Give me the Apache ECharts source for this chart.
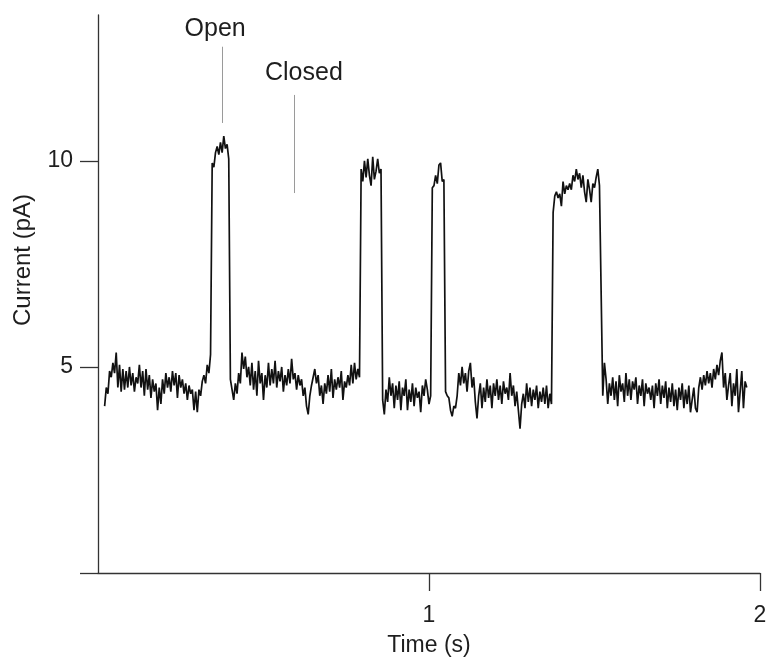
<!DOCTYPE html>
<html>
<head>
<meta charset="utf-8">
<script src="https://cdn.jsdelivr.net/npm/echarts@6/dist/echarts.min.js"></script>
<style>
html,body{margin:0;padding:0;background:#fff;}
#c{width:768px;height:657px;}
</style>
</head>
<body>
<div id="c"></div>
<script>
// ---- data (current in pA, sampled every sampleStep seconds from startTime) ----
const startTime = 0.02;
const sampleStep = 0.005;
const closedA = [4.05,4.5,4.35,4.9,4.75,5.1,4.85,5.35,4.5,5.05,
  4.4,4.95,4.45,4.9,4.5,5.0,4.55,4.85,4.4,4.75,
  4.6,5.05,4.5,4.9,4.3,4.95,4.45,4.8,4.25,4.7,
  4.4,4.6,3.95,4.5,4.1,4.7,4.35,4.85,4.5,4.75,
  4.4,4.9,4.55,4.85,4.25,4.8,4.5,4.7,4.35,4.6,
  4.2,4.55,4.35,4.45,3.95,4.4,3.9,4.45,4.3,4.65,
  4.8,4.6,5.05,4.85,5.3];
const open1 = [9.95,9.85,10.2,10.35,10.15,10.45,10.2,10.6,10.3,10.4,10.05];
const closedB = [4.7,4.45,4.2,4.6,4.35,4.85,4.6,5.35,4.95,5.25,
  4.75,5.0,4.55,5.1,4.45,4.9,4.3,5.15,4.6,4.85,
  4.2,4.8,4.5,5.1,4.55,4.95,4.6,5.15,4.5,4.9,
  4.65,5.0,4.4,4.8,4.55,4.95,4.6,5.2,4.7,4.85,
  4.45,4.8,4.55,4.7,4.3,4.5,4.05,3.85,4.3,4.55,
  4.75,4.95,4.6,4.8,4.3,4.55,4.1,4.6,4.35,4.8,
  4.4,4.95,4.25,4.7,4.45,4.75,4.5,4.9,4.2,4.65,
  4.5,4.8,4.55,5.05,4.6,5.1,4.7,4.95,4.75];
const open2 = [9.8,9.5,10.0,9.6,10.05,9.65,9.4,10.1,9.55,9.75,10.05,9.7,9.8];
const closedC = [4.2,3.85,4.45,4.15,4.75,4.3,4.6,4.0,4.55,4.2,
  4.65,3.95,4.5,4.3,4.7,3.95,4.45,4.15,4.6,4.05,
  4.5,4.25,4.4,3.9,4.55,4.3,4.7,4.45,4.1,4.3];
const open3 = [9.35,9.4,9.65,9.45,9.9,9.95,9.5,9.55];
const closedD = [4.4,4.3,4.25,3.95,3.8,4.05,4.0,4.3,4.85,4.55,
  5.0,4.6,4.85,4.4,4.9,5.1,4.5,4.75,4.15,3.75,
  4.3,4.6,4.0,4.5,4.15,4.7,4.25,4.55,4.0,4.6,
  4.3,4.7,4.2,4.55,4.1,4.65,4.35,4.5,4.2,4.85,
  4.3,4.55,4.05,4.4,3.95,3.5,4.1,4.35,4.0,4.6,
  4.15,4.5,4.05,4.45,4.2,4.55,4.0,4.4,4.15,4.5,
  4.1,4.55,4.0,4.35,4.1];
const open4 = [8.75,9.15,9.25,9.1,9.2,8.9,9.5,9.2,9.4,9.3,
  9.45,9.3,9.65,9.5,9.8,9.55,9.7,9.35,9.65,9.25,
  9.0,9.55,9.3,9.0,9.45,9.35,9.6,9.8,9.4,9.4];
const closedE = [4.3,5.1,4.7,4.1,4.6,4.3,4.75,4.2,4.65,4.05,
  4.8,4.4,4.6,4.15,4.85,4.3,4.7,4.2,4.65,4.45,
  4.75,4.1,4.55,4.3,4.7,4.05,4.6,4.35,4.5,4.2,
  4.55,4.0,4.6,4.3,4.7,4.1,4.55,4.25,4.65,4.0,
  4.5,4.15,4.6,4.05,4.45,3.95,4.5,4.2,4.6,4.0,
  4.45,4.1,4.55,3.9,4.2,4.5,4.0,3.9,4.5,4.75,
  4.45,4.8,4.55,4.9,4.6,4.85,4.5,4.95,4.7,5.05,
  4.8,5.15,5.35,4.5,4.85,4.2,4.55,4.85,4.05,4.6,
  4.3,4.95,3.9,4.4,4.9,4.0,4.65,4.5];

const yTicks = [0, 5, 10];
const yLabels = [5, 10];
const xTicks = [1, 2];
const xLabels = [1, 2];

// annotation text and pointer lines (data coordinates: time s, current pA)
const annoText = ['Open', 'Closed'];
const annoTime = [0.354, 0.622];
const annoCurrent = [13.2, 12.12];
const pointerTime = [0.374, 0.594];
const pointerFrom = [10.92, 9.22];
const pointerTo = [12.77, 11.6];

// ---- build ----
const current = [].concat(closedA, open1, closedB, open2, closedC, open3, closedD, open4, closedE);
const trace = current.map((v, i) => [+(startTime + i * sampleStep).toFixed(4), v]);

const FONT = '"Liberation Sans", Arial, Helvetica, sans-serif';
const TXT = '#1e1e1e';
const chart = echarts.init(document.getElementById('c'), null, {renderer: 'canvas'});
chart.setOption({
  animation: false,
  backgroundColor: '#ffffff',
  grid: {left: 98, right: 8, top: 15, bottom: 84, containLabel: false, outerBoundsMode: 'none'},
  xAxis: {
    type: 'value', min: 0, max: 2,
    name: 'Time (s)', nameLocation: 'middle', nameGap: 61,
    nameTextStyle: {fontFamily: FONT, fontSize: 23, color: TXT},
    axisLine: {show: true, onZero: false, lineStyle: {color: '#333', width: 1.3}},
    axisTick: {show: true, inside: false, length: 18, customValues: xTicks, lineStyle: {color: '#333', width: 1.3}},
    axisLabel: {show: true, margin: 31, customValues: xLabels, fontFamily: FONT, fontSize: 23, color: TXT},
    splitLine: {show: false}
  },
  yAxis: {
    type: 'value', min: 0, max: 13.54,
    name: 'Current (pA)', nameLocation: 'middle', nameGap: 63, nameRotate: 90,
    nameTextStyle: {fontFamily: FONT, fontSize: 24, color: TXT, padding: [0, 0, 0, 68]},
    axisLine: {show: true, onZero: false, lineStyle: {color: '#333', width: 1.3}},
    axisTick: {show: true, inside: false, length: 18, customValues: yTicks, lineStyle: {color: '#333', width: 1.3}},
    axisLabel: {show: true, margin: 25, customValues: yLabels, fontFamily: FONT, fontSize: 23, color: TXT},
    splitLine: {show: false}
  },
  series: [
    {
      type: 'line', data: trace, showSymbol: false, smooth: false,
      lineStyle: {color: '#111', width: 1.7},
      silent: true,
      markLine: {
        silent: true, symbol: ['none', 'none'],
        lineStyle: {color: '#9a9a9a', width: 1, type: 'solid'},
        label: {show: false},
        data: pointerTime.map((t, i) => [{coord: [t, pointerFrom[i]]}, {coord: [t, pointerTo[i]]}])
      }
    },
    {
      type: 'scatter', symbolSize: 0, silent: true,
      itemStyle: {color: TXT, opacity: 1},
      data: annoText.map((s, i) => [annoTime[i], annoCurrent[i], s]),
      label: {show: true, position: 'inside', formatter: p => p.value[2],
        fontFamily: FONT, fontSize: 25, color: TXT, textBorderWidth: 0, opacity: 1}
    }
  ]
});
</script>
</body>
</html>
